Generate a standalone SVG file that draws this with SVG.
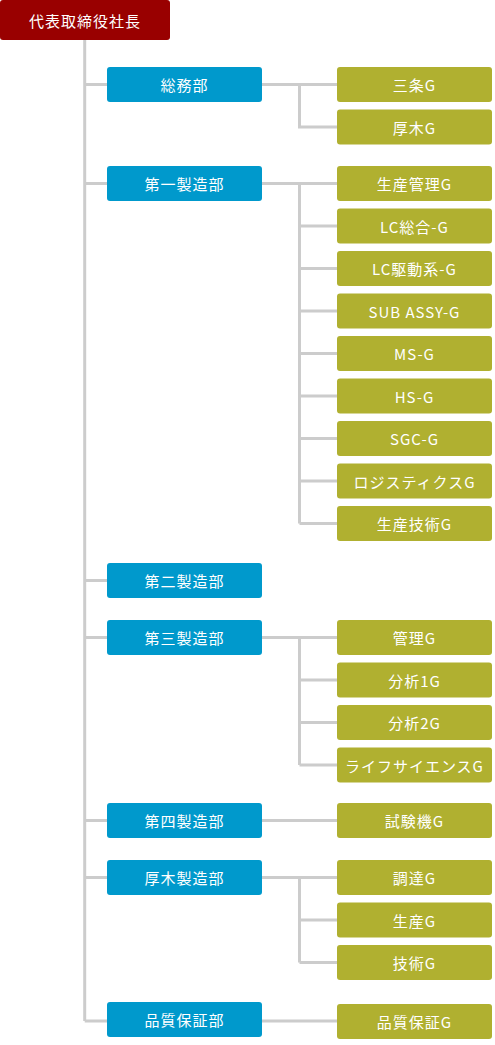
<svg xmlns="http://www.w3.org/2000/svg" width="495" height="1045" viewBox="0 0 495 1045">
<style>
.ln{fill:none;stroke:#cccccc;stroke-width:3}
.top{fill:#990000}
.dep{fill:#0099cc}
.grp{fill:#b0b030}
text{fill:#ffffff;font-family:"Noto Sans CJK JP","Noto Sans",sans-serif;font-size:15px;text-anchor:middle;dominant-baseline:central;letter-spacing:1px}
</style>
<g id="connectors">
<path class="ln" d="M84.7 40V1021M84.7 84.5H107M84.7 183.5H107M84.7 580.5H107M84.7 637.5H107M84.7 820.5H107M84.7 877.5H107M84.7 1021H107"/>
<path class="ln" d="M262 84.5H337M299.5 84.5V127H337"/>
<path class="ln" d="M262 183.5H337M299.5 183.5V523.5M299.5 226H337M299.5 268.5H337M299.5 311H337M299.5 353.5H337M299.5 396H337M299.5 438.5H337M299.5 481H337M299.5 523.5H337"/>
<path class="ln" d="M262 637.5H337M299.5 637.5V765M299.5 680H337M299.5 722.5H337M299.5 765H337"/>
<path class="ln" d="M262 820.5H337"/>
<path class="ln" d="M262 877.5H337M299.5 877.5V962.5M299.5 920H337M299.5 962.5H337"/>
<path class="ln" d="M262 1021H337"/>
</g>
<g id="n-ceo"><rect class="top" x="0" y="0" width="170" height="40" rx="3"/><text x="85" y="20">代表取締役社長</text></g>
<g id="n-soumu"><rect class="dep" x="107" y="67" width="155" height="35" rx="3"/><text x="184.5" y="84.5">総務部</text></g>
<g id="n-dai1"><rect class="dep" x="107" y="166" width="155" height="35" rx="3"/><text x="184.5" y="183.5">第一製造部</text></g>
<g id="n-dai2"><rect class="dep" x="107" y="563" width="155" height="35" rx="3"/><text x="184.5" y="580.5">第二製造部</text></g>
<g id="n-dai3"><rect class="dep" x="107" y="620" width="155" height="35" rx="3"/><text x="184.5" y="637.5">第三製造部</text></g>
<g id="n-dai4"><rect class="dep" x="107" y="803" width="155" height="35" rx="3"/><text x="184.5" y="820.5">第四製造部</text></g>
<g id="n-atsugi"><rect class="dep" x="107" y="860" width="155" height="35" rx="3"/><text x="184.5" y="877.5">厚木製造部</text></g>
<g id="n-qa"><rect class="dep" x="107" y="1002" width="155" height="35" rx="3"/><text x="184.5" y="1019.5">品質保証部</text></g>
<g id="g-sanjo"><rect class="grp" x="337" y="67" width="155" height="35" rx="3"/><text x="414.5" y="84.5">三条G</text></g>
<g id="g-atsugi"><rect class="grp" x="337" y="109.5" width="155" height="35" rx="3"/><text x="414.5" y="127">厚木G</text></g>
<g id="g-seisankanri"><rect class="grp" x="337" y="166" width="155" height="35" rx="3"/><text x="414.5" y="183.5">生産管理G</text></g>
<g id="g-lcsogo"><rect class="grp" x="337" y="208.5" width="155" height="35" rx="3"/><text x="414.5" y="226">LC総合-G</text></g>
<g id="g-lckudo"><rect class="grp" x="337" y="251" width="155" height="35" rx="3"/><text x="414.5" y="268.5">LC駆動系-G</text></g>
<g id="g-subassy"><rect class="grp" x="337" y="293.5" width="155" height="35" rx="3"/><text x="414.5" y="311">SUB ASSY-G</text></g>
<g id="g-ms"><rect class="grp" x="337" y="336" width="155" height="35" rx="3"/><text x="414.5" y="353.5">MS-G</text></g>
<g id="g-hs"><rect class="grp" x="337" y="378.5" width="155" height="35" rx="3"/><text x="414.5" y="396">HS-G</text></g>
<g id="g-sgc"><rect class="grp" x="337" y="421" width="155" height="35" rx="3"/><text x="414.5" y="438.5">SGC-G</text></g>
<g id="g-logi"><rect class="grp" x="337" y="463.5" width="155" height="35" rx="3"/><text x="414.5" y="481">ロジスティクスG</text></g>
<g id="g-seisangijutsu"><rect class="grp" x="337" y="506" width="155" height="35" rx="3"/><text x="414.5" y="523.5">生産技術G</text></g>
<g id="g-kanri"><rect class="grp" x="337" y="620" width="155" height="35" rx="3"/><text x="414.5" y="637.5">管理G</text></g>
<g id="g-bunseki1"><rect class="grp" x="337" y="662.5" width="155" height="35" rx="3"/><text x="414.5" y="680">分析1G</text></g>
<g id="g-bunseki2"><rect class="grp" x="337" y="705" width="155" height="35" rx="3"/><text x="414.5" y="722.5">分析2G</text></g>
<g id="g-life"><rect class="grp" x="337" y="747.5" width="155" height="35" rx="3"/><text x="414.5" y="765">ライフサイエンスG</text></g>
<g id="g-shikenki"><rect class="grp" x="337" y="803" width="155" height="35" rx="3"/><text x="414.5" y="820.5">試験機G</text></g>
<g id="g-chotatsu"><rect class="grp" x="337" y="860" width="155" height="35" rx="3"/><text x="414.5" y="877.5">調達G</text></g>
<g id="g-seisan"><rect class="grp" x="337" y="902.5" width="155" height="35" rx="3"/><text x="414.5" y="920">生産G</text></g>
<g id="g-gijutsu"><rect class="grp" x="337" y="945" width="155" height="35" rx="3"/><text x="414.5" y="962.5">技術G</text></g>
<g id="g-qa"><rect class="grp" x="337" y="1004" width="155" height="35" rx="3"/><text x="414.5" y="1021.5">品質保証G</text></g>
</svg>
